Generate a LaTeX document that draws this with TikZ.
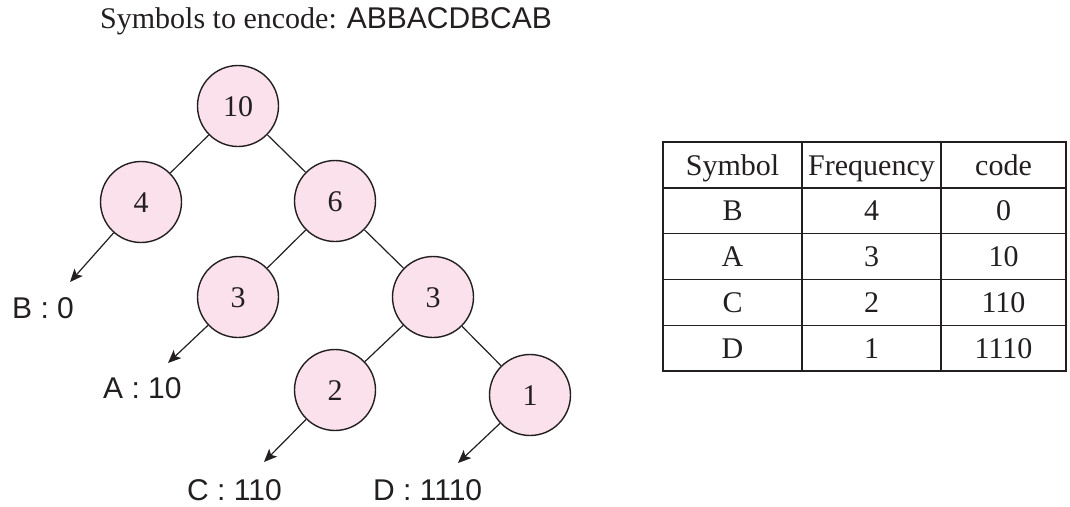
\documentclass[tikz,border=0pt]{standalone}
\usepackage{fontspec}
\setmainfont{Liberation Serif}
\newfontfamily\labelfont{Liberation Sans}
\usetikzlibrary{arrows.meta}
\definecolor{nodepink}{RGB}{250,225,236}
\definecolor{ink}{RGB}{35,31,32}
\begin{document}
\begin{tikzpicture}[x=1pt,y=-1pt,
  every node/.style={font=\fontsize{30}{36}\selectfont, text=ink},
  tnode/.style={circle, draw=ink, line width=1.4pt, fill=nodepink,
    minimum size=81pt, inner sep=0pt, text height=20pt, text depth=0pt},
  edge/.style={draw=ink, line width=1.2pt},
  leafarrow/.style={edge, -{Stealth[length=13pt,width=11pt,inset=3pt]}},
  codelabel/.style={font=\labelfont\fontsize{30}{36}\selectfont, anchor=base west, inner sep=0pt},
  cell/.style={draw=ink, line width=1.3pt, minimum height=45.8pt, inner sep=0pt,
    text height=20pt, text depth=0pt},
  colA/.style={cell, minimum width=139pt},
  colB/.style={cell, minimum width=139pt},
  colC/.style={cell, minimum width=125pt}
]
\useasboundingbox (0,0) rectangle (1070,506);

% heading
\node[anchor=base west, inner sep=0pt] (title) at (100,28)
  {Symbols to encode: {\labelfont ABBACDBCAB}};

% Huffman tree
\node[tnode] (n10) at (238,106) {10};
\node[tnode] (n4)  at (141,202) {4};
\node[tnode] (n6)  at (335,201) {6};
\node[tnode] (n3a) at (238,297) {3};
\node[tnode] (n3b) at (433,297) {3};
\node[tnode] (n2)  at (335,390) {2};
\node[tnode] (n1)  at (530,395) {1};

\draw[edge] (n10) -- (n4);
\draw[edge] (n10) -- (n6);
\draw[edge] (n6) -- (n3a);
\draw[edge] (n6) -- (n3b);
\draw[edge] (n3b) -- (n2);
\draw[edge] (n3b) -- (n1);

% leaves and their codes
\coordinate (tB) at (70,282);
\coordinate (tA) at (168,363);
\coordinate (tC) at (264,462);
\coordinate (tD) at (458,463);
\draw[leafarrow] (n4) -- (tB);
\draw[leafarrow] (n3a) -- (tA);
\draw[leafarrow] (n2) -- (tC);
\draw[leafarrow] (n1) -- (tD);

\node[codelabel] (lB) at (12,318) {B : 0};
\node[codelabel] (lA) at (103,398) {A : 10};
\node[codelabel] (lC) at (187,500) {C : 110};
\node[codelabel] (lD) at (373,500) {D : 1110};

% code table
\foreach \sym/\frq/\cod [count=\i from 0] in
  {Symbol/Frequency/code, B/4/0, A/3/10, C/2/110, D/1/1110} {
  \node[colA] (s\i) at (732.5,{165+45.8*\i}) {\sym};
  \node[colB] (f\i) at (871.5,{165+45.8*\i}) {\frq};
  \node[colC] (c\i) at (1003.5,{165+45.8*\i}) {\cod};
}
\end{tikzpicture}
\end{document}
